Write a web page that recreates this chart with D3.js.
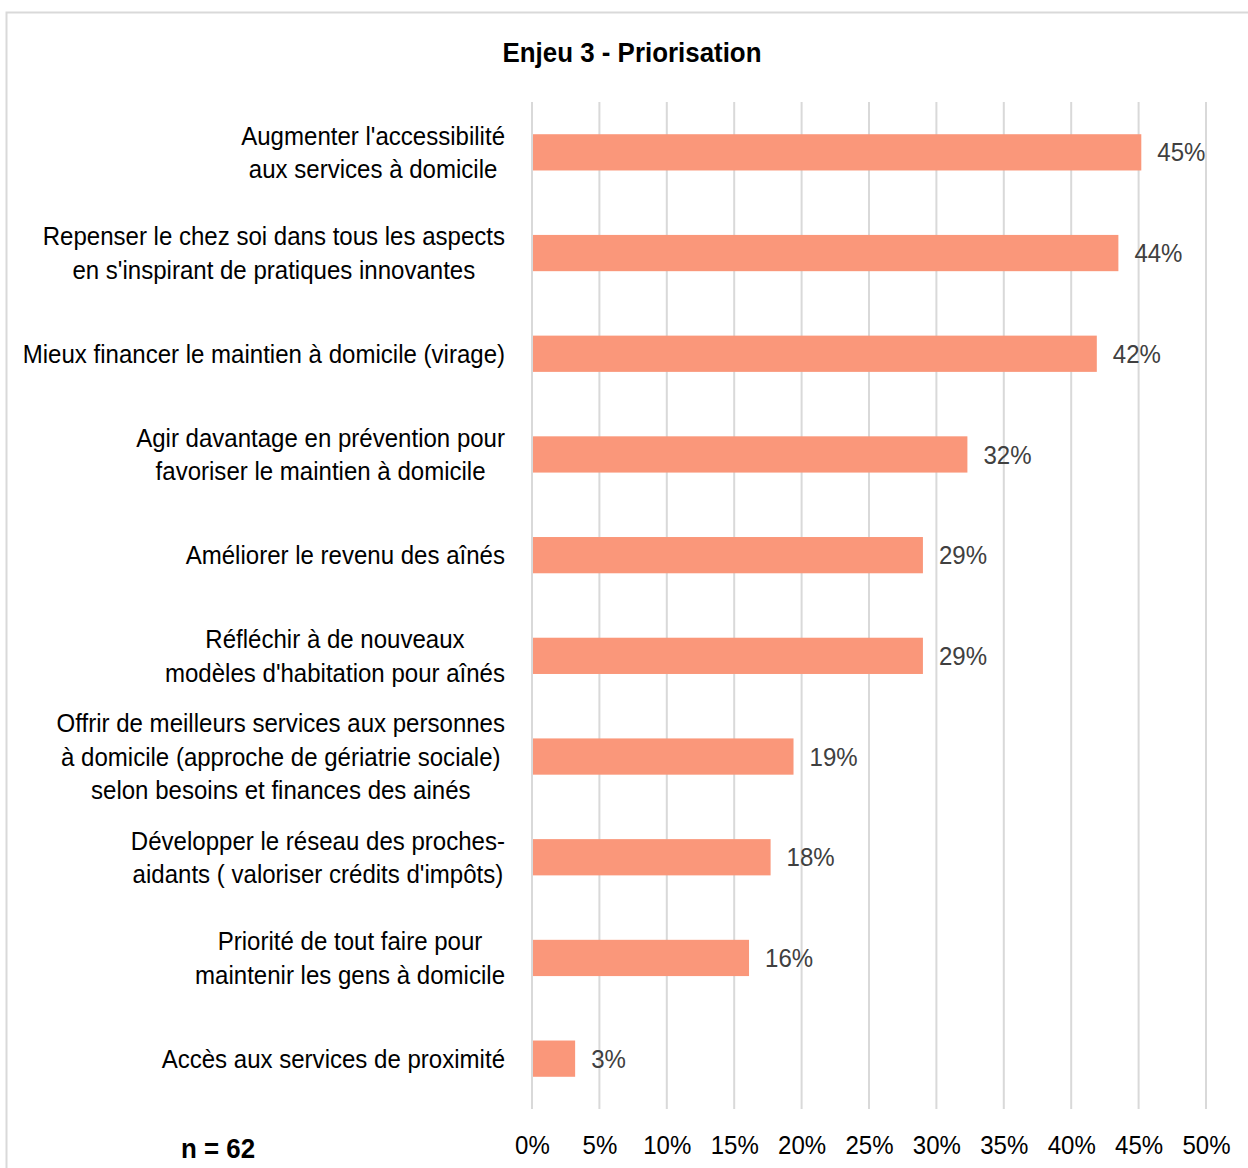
<!DOCTYPE html>
<html><head><meta charset="utf-8">
<script src="https://cdn.jsdelivr.net/npm/d3@7"></script>
<style>
body{margin:0;background:#fff;}
text{font-family:"Liberation Sans Narrow","Arial Narrow","Liberation Sans",sans-serif;}
</style></head>
<body><svg id="c" width="1248" height="1168"></svg>
<script>
const categories = [
  ["Augmenter l'accessibilité","aux services à domicile"],
  ["Repenser le chez soi dans tous les aspects","en s'inspirant de pratiques innovantes"],
  ["Mieux financer le maintien à domicile (virage)"],
  ["Agir davantage en prévention pour","favoriser le maintien à domicile"],
  ["Améliorer le revenu des aînés"],
  ["Réfléchir à de nouveaux","modèles d'habitation pour aînés"],
  ["Offrir de meilleurs services aux personnes","à domicile (approche de gériatrie sociale)","selon besoins et finances des ainés"],
  ["Développer le réseau des proches-","aidants ( valoriser crédits d'impôts)"],
  ["Priorité de tout faire pour","maintenir les gens à domicile"],
  ["Accès aux services de proximité"]
];
const values = [45.2, 43.5, 41.9, 32.3, 29.0, 29.0, 19.4, 17.7, 16.1, 3.2];
const valueLabels = ["45%","44%","42%","32%","29%","29%","19%","18%","16%","3%"];
const xTicks = [0,5,10,15,20,25,30,35,40,45,50];
const title = "Enjeu 3 - Priorisation";
const nLabel = "n = 62";

const SX = 0.925; // horizontal condensation to mimic a narrow font
const svg = d3.select("#c");
svg.append("rect").attr("x",6.5).attr("y",12.5).attr("width",1260).attr("height",1180)
  .attr("fill","#fff").attr("stroke","#d9d9d9").attr("stroke-width",2);

const x = d3.scaleLinear().domain([0,50]).range([532,1206]);
const y = d3.scaleBand().domain(d3.range(categories.length)).range([102,1109]).paddingInner(0.64).paddingOuter(0.32);

function ctext(parent, px, py, str, size, anchor, opts={}){
  const t = parent.append("text")
    .attr("transform",`translate(${px},${py}) scale(${SX},1)`)
    .attr("dy","0.35em").attr("text-anchor",anchor).attr("font-size",size)
    .attr("fill",opts.fill||"#000").text(str);
  if(opts.bold) t.attr("font-weight","bold");
  return t;
}

// gridlines
svg.append("g").selectAll("line").data(xTicks).join("line")
  .attr("x1",d=>x(d)).attr("x2",d=>x(d)).attr("y1",102).attr("y2",1109)
  .attr("stroke","#d9d9d9").attr("stroke-width",2);

// bars
svg.append("g").selectAll("rect").data(values).join("rect")
  .attr("x",x(0)+1).attr("y",(d,i)=>y(i)).attr("width",d=>x(d)-x(0)-1).attr("height",y.bandwidth())
  .attr("fill","#fa977a");

// value labels
const vg = svg.append("g");
values.forEach((d,i)=>ctext(vg, x(d)+16, y(i)+y.bandwidth()/2, valueLabels[i], 26, "start", {fill:"#404040"}));

// x tick labels via axis
const xAxis = d3.axisBottom(x).tickValues(xTicks).tickFormat(d=>d+"%").tickSize(0).tickPadding(0);
const gx = svg.append("g").attr("transform","translate(0,1145)").call(xAxis);
gx.select(".domain").remove();
gx.selectAll("text").attr("font-size",26).attr("fill","#000").attr("dy","0.35em").attr("y",null)
  .attr("transform",`scale(${SX},1)`)
  .attr("font-family",'"Liberation Sans Narrow","Arial Narrow","Liberation Sans",sans-serif');

// category labels
const lh = 33.5;
const catG = svg.append("g");
categories.forEach((lines,i)=>{
  const cy = y(i)+y.bandwidth()/2;
  const g = catG.append("g");
  const ts = lines.map((t,k)=>ctext(g, 0, cy+(k-(lines.length-1)/2)*lh, t, 26, "middle"));
  const w = d3.max(ts,t=>t.node().getComputedTextLength())*SX;
  const cx = 505 - w/2;
  ts.forEach((t,k)=>t.attr("transform",`translate(${cx},${cy+(k-(lines.length-1)/2)*lh}) scale(${SX},1)`));
});

ctext(svg, 632, 52, title, 28, "middle", {bold:true});
ctext(svg, 218, 1148, nLabel, 28, "middle", {bold:true});
</script></body></html>
